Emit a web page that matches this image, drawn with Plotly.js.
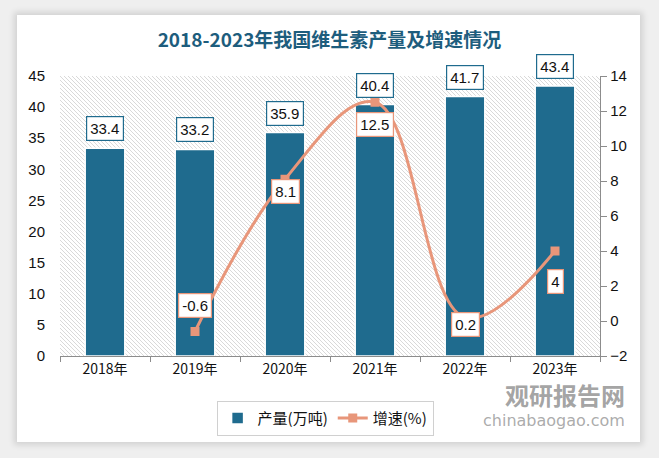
<!DOCTYPE html>
<html>
<head>
<meta charset="utf-8">
<script src="https://cdn.plot.ly/plotly-3.0.1.min.js"></script>
<style>
html,body{margin:0;padding:0;background:#f4f4f4;}
#wrap{position:relative;width:659px;height:458px;overflow:hidden;background:#efefef;}
#card{position:absolute;left:17px;top:15px;width:623px;height:427px;background:#fff;box-shadow:0 0 6px 3px rgba(0,0,0,0.12);}
#chart{position:absolute;left:0;top:0;width:659px;height:458px;}
</style>
</head>
<body>
<div id="wrap"><div id="card"></div><div id="chart"></div></div>
<script>
const years = ['2018年','2019年','2020年','2021年','2022年','2023年'];
const output = [33.4, 33.2, 35.9, 40.4, 41.7, 43.4];
const growthYears = ['2019年','2020年','2021年','2022年','2023年'];
const growth = [-0.6, 8.1, 12.5, 0.2, 4];
const titleText = '2018-2023年我国维生素产量及增速情况';

const hatch = 'data:image/svg+xml;base64,' + btoa(
 '<svg xmlns="http://www.w3.org/2000/svg" width="540" height="280">' +
 '<defs><pattern id="p" width="4" height="4" patternUnits="userSpaceOnUse">' +
 '<path d="M-1,-1 L5,5 M-1,3 L1,5 M3,-1 L5,1" stroke="#cfcfcf" stroke-width="0.8"/></pattern></defs>' +
 '<rect width="540" height="280" fill="url(#p)"/></svg>');

const barLabels = years.map((y,i)=>({
  x: y, y: output[i], xref:'x', yref:'y', text: String(output[i]),
  showarrow:false, yanchor:'bottom', yshift:7,
  bgcolor:'#fff', bordercolor:'#1f6b8e', borderwidth:1.2, borderpad:3,
  font:{size:15, color:'#111', family:'Liberation Sans, Arial, sans-serif'}
}));
const lineShift = [26, -12, -22, -7, -30];
const lineLabels = growthYears.map((y,i)=>({
  x: y, y: growth[i], xref:'x', yref:'y2', text: String(growth[i]),
  showarrow:false, yanchor:'middle', yshift:lineShift[i],
  bgcolor:'#fff', bordercolor:'#e8967a', borderwidth:1.2, borderpad:3,
  font:{size:15, color:'#111', family:'Liberation Sans, Arial, sans-serif'}
}));

const data = [
  {type:'bar', name:'产量(万吨)', x: years, y: output, yaxis:'y',
   marker:{color:'#1f6b8e', line:{color:'#ffffff', width:1.5}}, width:0.44},
  {type:'scatter', mode:'lines+markers', name:'增速(%)', x: growthYears, y: growth, yaxis:'y2',
   line:{color:'#e8967a', width:3, shape:'spline', smoothing:1.1},
   marker:{symbol:'square', size:9, color:'#e8967a'}}
];

const layout = {
  width:659, height:458,
  margin:{l:60, r:59, t:76, b:102},
  paper_bgcolor:'rgba(0,0,0,0)', plot_bgcolor:'rgba(0,0,0,0)',
  font:{family:'Liberation Sans, Noto Sans CJK SC, sans-serif', color:'#111'},
  title:{text:titleText, x:0.5, xanchor:'center', y:0.912, yanchor:'middle',
         font:{size:19, color:'#1d5d7d', family:'Noto Sans CJK SC, sans-serif', weight:'bold'}},
  showlegend:true,
  legend:{orientation:'h', x:0.29, xanchor:'left', y:-0.16, yanchor:'top',
          bordercolor:'#d0d0d0', borderwidth:1, bgcolor:'#fff',
          font:{size:15, family:'Noto Sans CJK SC, sans-serif', color:'#111'}},
  bargap:0.56,
  xaxis:{type:'category', showgrid:false, showline:true, linecolor:'#8c8c8c', linewidth:1.2,
         ticks:'outside', ticklen:5, tickcolor:'#8c8c8c', tickson:'boundaries',
         tickfont:{size:14, family:'Noto Sans CJK SC, sans-serif', color:'#111'}, zeroline:false},
  yaxis:{range:[0,45], dtick:5, showgrid:false, zeroline:false, showline:false,
         ticklabelstandoff:14, tickfont:{size:15, color:'#111'}},
  yaxis2:{range:[-2,14], dtick:2, overlaying:'y', side:'right', showgrid:false, zeroline:false,
          showline:true, linecolor:'#8c8c8c', linewidth:1.2, ticks:'outside', ticklen:6, tickcolor:'#8c8c8c',
          tickfont:{size:15, color:'#111'}},
  images:[{source:hatch, xref:'paper', yref:'paper', x:0, y:1, sizex:1, sizey:1,
           sizing:'stretch', layer:'below', xanchor:'left', yanchor:'top'}],
  annotations: barLabels.concat(lineLabels).concat([
    {xref:'paper', yref:'paper', x:1.05, y:-0.139, xanchor:'right', yanchor:'middle', showarrow:false,
     text:'<b>观研报告网</b>', font:{size:24, color:'rgba(140,140,140,0.8)', family:'Noto Sans CJK SC, sans-serif'}},
    {xref:'paper', yref:'paper', x:1.05, y:-0.232, xanchor:'right', yanchor:'middle', showarrow:false,
     text:'chinabaogao.com', font:{size:16, color:'rgba(150,150,150,0.8)', family:'DejaVu Sans, sans-serif'}}
  ])
};

Plotly.newPlot('chart', data, layout, {displayModeBar:false, staticPlot:true});
</script>
</body>
</html>
